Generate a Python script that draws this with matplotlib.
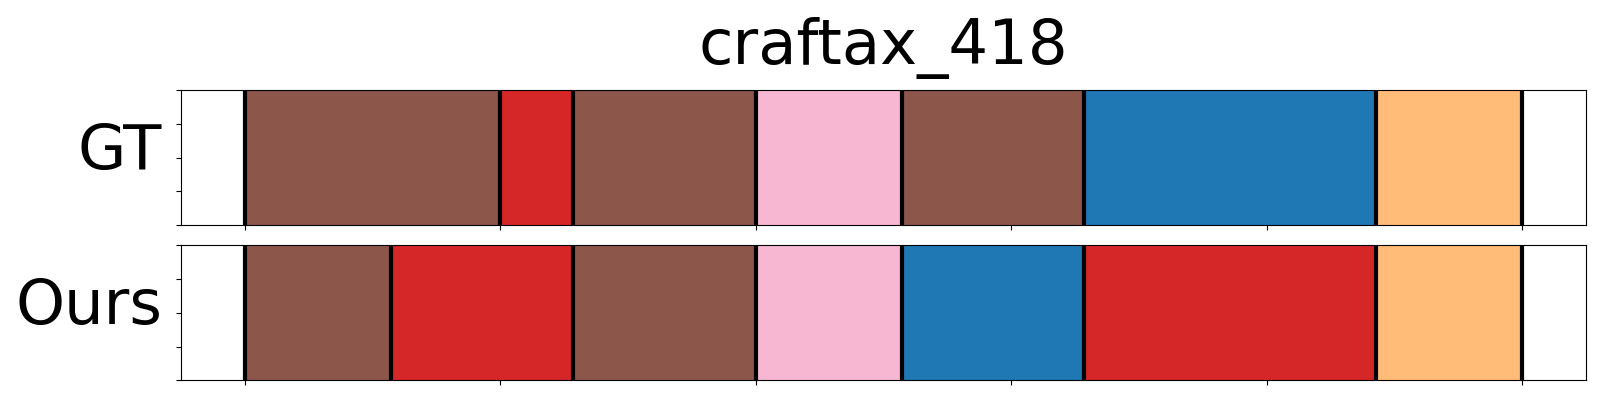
import matplotlib
matplotlib.use("Agg")
from matplotlib import pyplot as plt

title = "craftax_418"
row_labels = ["GT", "Ours"]

# segment boundaries (time steps) and the colour of each segment
gt_bounds = [0, 7, 9, 14, 18, 23, 31, 35]
gt_colors = ["#8c564b", "#d62728", "#8c564b", "#f7b6d2", "#8c564b", "#1f77b4", "#ffbb78"]
ours_bounds = [0, 4, 9, 14, 18, 23, 31, 35]
ours_colors = ["#8c564b", "#d62728", "#8c564b", "#f7b6d2", "#1f77b4", "#d62728", "#ffbb78"]

x_ticks = [0, 7, 14, 21, 28, 35]
y_ticks = [0, 0.25, 0.5, 0.75, 1.0]


def draw_row(ax, bounds, colors, label):
    starts = bounds[:-1]
    widths = [b - a for a, b in zip(bounds[:-1], bounds[1:])]
    ax.barh(0.5, widths, left=starts, height=1.0, color=colors, align="center")
    for b in bounds:
        ax.axvline(b, color="black", linewidth=3)
    ax.set_xlim(-1.75, 36.75)
    ax.set_ylim(0, 1)
    ax.set_xticks(x_ticks)
    ax.set_xticklabels([])
    ax.set_yticks(y_ticks)
    ax.set_yticklabels([])
    ax.set_ylabel(label, rotation=0, ha="right", va="center", fontsize=45)
    ax.yaxis.set_label_coords(-0.0135, 0.54)


fig = plt.figure(figsize=(16, 4), dpi=100)
ax1 = fig.add_axes([0.1133, 0.4375, 0.8778, 0.3368])
ax2 = fig.add_axes([0.1133, 0.0493, 0.8778, 0.3375])

draw_row(ax1, gt_bounds, gt_colors, row_labels[0])
draw_row(ax2, ours_bounds, ours_colors, row_labels[1])
ax1.set_title(title, fontsize=45, pad=19)

fig.savefig("out.png", dpi=100)
